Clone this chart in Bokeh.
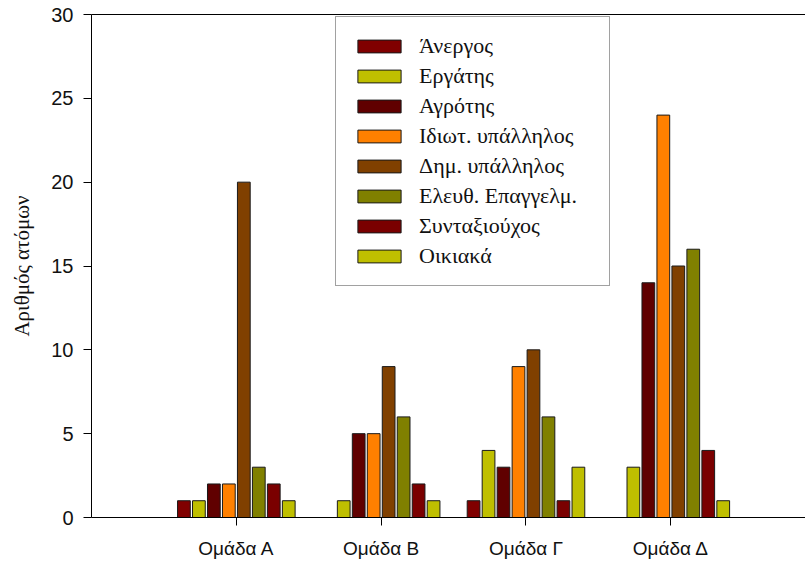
from bokeh.plotting import figure
from bokeh.models import ColumnDataSource, Legend, LegendItem, LinearAxis, FixedTicker, Range1d
from bokeh.embed import file_html
from bokeh.resources import INLINE

groups = ["Ομάδα Α", "Ομάδα Β", "Ομάδα Γ", "Ομάδα Δ"]
series = ["Άνεργος", "Εργάτης", "Αγρότης", "Ιδιωτ. υπάλληλος",
          "Δημ. υπάλληλος", "Ελευθ. Επαγγελμ.", "Συνταξιούχος", "Οικιακά"]
anergos = [1, 0, 1, 0]
ergatis = [1, 1, 4, 3]
agrotis = [2, 5, 3, 14]
idiot = [2, 5, 9, 24]
dim = [20, 9, 10, 15]
eleuth = [3, 6, 6, 16]
syntax = [2, 2, 1, 4]
oikiaka = [1, 1, 3, 1]
values = [anergos, ergatis, agrotis, idiot, dim, eleuth, syntax, oikiaka]
colors = ["#800000", "#BFBF00", "#600000", "#FF8000",
          "#804000", "#808000", "#7A0000", "#BFBF00"]
yticks = [0, 5, 10, 15, 20, 25, 30]

SERIF = "Liberation Serif"
SANS = "Liberation Sans"

p = figure(width=805, height=561, output_backend="svg", toolbar_location=None,
           x_range=Range1d(0, 4.93), y_range=Range1d(0, 30),
           min_border_left=91, min_border_right=0, min_border_top=14,
           min_border_bottom=41)
p.outline_line_color = None
p.grid.visible = False
p.background_fill_color = "white"

pitch = 0.1034
width = 0.088
items = []
xs = [1, 2, 3, 4]
for i, (name, vals, col) in enumerate(zip(series, values, colors)):
    off = (i - 3.5) * pitch
    src = ColumnDataSource(dict(x=[x + off for x in xs], top=vals))
    r = p.vbar(x="x", top="top", width=width, bottom=0, source=src,
               fill_color=col, line_color="#1a1a1a", line_width=1)
    items.append(LegendItem(label=name, renderers=[r]))

legend = Legend(items=items, location=(244, 231),
                label_text_font=SERIF, label_text_font_size="22px",
                label_text_color="#111111",
                glyph_width=54, glyph_height=16, label_height=24, label_width=174,
                spacing=4, padding=16, margin=0,
                border_line_color="#444444", border_line_width=1,
                background_fill_color="white", background_fill_alpha=1.0,
                label_standoff=13)
p.add_layout(legend, "center")

# x axis
xa = p.xaxis[0]
xa.ticker = FixedTicker(ticks=xs)
xa.major_label_overrides = {1: groups[0], 2: groups[1], 3: groups[2], 4: groups[3]}
xa.major_label_text_font = SANS
xa.major_label_text_font_size = "19px"
xa.major_label_text_color = "#111111"
xa.major_tick_out = 8
xa.major_tick_in = 0
xa.minor_tick_line_color = None
xa.axis_line_color = "black"
xa.major_label_standoff = 12

ya = p.yaxis[0]
ya.ticker = FixedTicker(ticks=yticks)
ya.major_label_text_font = SANS
ya.major_label_text_font_size = "20px"
ya.major_label_text_color = "#111111"
ya.major_tick_out = 8
ya.major_tick_in = 0
ya.minor_tick_line_color = None
ya.axis_label = "Αριθμός ατόμων"
ya.axis_label_text_font = SERIF
ya.axis_label_text_font_size = "21px"
ya.axis_label_text_font_style = "normal"
ya.axis_label_text_color = "#111111"
ya.major_label_standoff = 10
ya.axis_label_standoff = 14

top = LinearAxis(ticker=FixedTicker(ticks=[]), major_label_text_font_size="0px",
                 major_tick_line_color=None, minor_tick_line_color=None,
                 axis_line_color="black")
p.add_layout(top, "above")

open("out.html", "w").write(file_html(p, INLINE))
